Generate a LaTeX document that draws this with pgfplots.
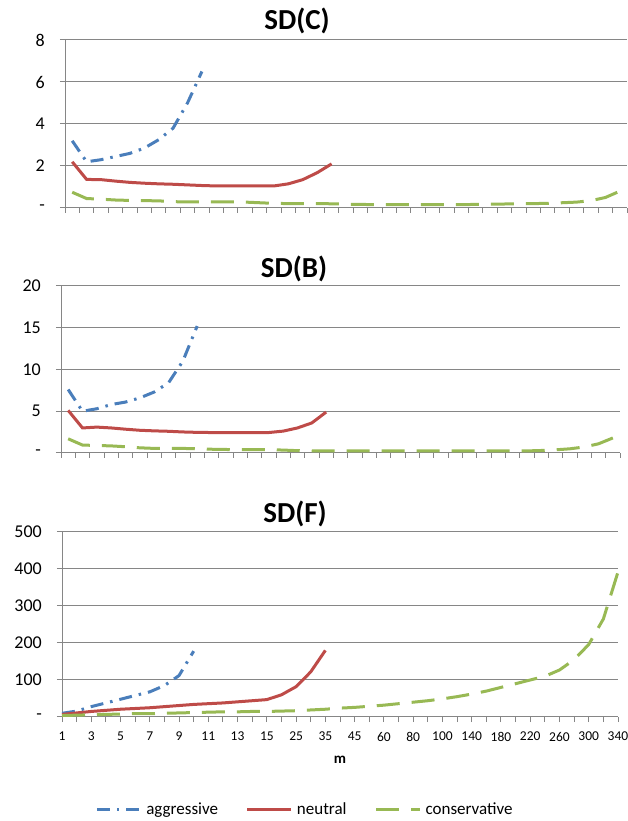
\documentclass[border=0pt]{standalone}
\usepackage{fontspec}
\setmainfont{Carlito}
\usepackage{pgfplots}
\pgfplotsset{compat=1.18}
\definecolor{agg}{HTML}{4A7EBB}
\definecolor{neu}{HTML}{BE4B48}
\definecolor{con}{HTML}{98B954}
\definecolor{axgray}{HTML}{868686}
\pgfplotsset{
  sdbase/.style={
    scale only axis,
    anchor=south west,
    axis lines*=left,
    axis line style={draw=axgray, line width=1bp},
    ymajorgrids,
    grid style={draw=axgray, line width=1bp},
    tick style={draw=axgray, line width=1bp},
    tick align=outside,
    major tick length=5bp,
    /pgf/number format/assume math mode=true,
    yticklabel style={font=\fontsize{18bp}{20bp}\selectfont, anchor=east, inner sep=0pt, xshift=-15bp},
    xticklabel style={font=\fontsize{13.5bp}{15bp}\selectfont, anchor=north, inner sep=0pt, yshift=-10bp},
    clip=false,
  },
  aggstyle/.style={color=agg, line width=3bp, dash pattern=on 13bp off 7bp on 2.5bp off 7bp},
  neustyle/.style={color=neu, line width=3bp},
  constyle/.style={color=con, line width=3bp, dash pattern=on 23bp off 12bp},
}
\begin{document}
\begin{tikzpicture}
\path[use as bounding box] (0,0) rectangle (628bp,821bp);

% ---------- SD(C) ----------
\begin{axis}[sdbase,
  at={(65bp,613bp)}, width=562bp, height=168bp,
  xmin=-0.5, xmax=38.5, ymin=0, ymax=8,
  xtick={-0.5,0.5,...,38.5}, xticklabels={},
  ytick={0,2,4,6,8}, yticklabels={-,2,4,6,8},
]
\addplot[aggstyle] coordinates {(0,3.2)(1,2.2)(2,2.3)(3,2.45)(4,2.6)(5,2.85)(6,3.25)(7,3.8)(8,5.0)(9,6.5)};
\addplot[neustyle] coordinates {(0,2.2)(1,1.36)(2,1.35)(3,1.28)(4,1.22)(5,1.18)(6,1.15)(7,1.13)(8,1.1)(9,1.07)(10,1.05)(11,1.05)(12,1.05)(13,1.05)(14,1.05)(15,1.15)(16,1.35)(17,1.68)(18,2.1)};
\addplot[constyle] coordinates {(0,0.75)(1,0.45)(2,0.42)(3,0.38)(4,0.36)(5,0.35)(6,0.34)(7,0.3)(8,0.29)(9,0.29)(10,0.29)(11,0.29)(12,0.28)(13,0.25)(14,0.22)(15,0.21)(16,0.21)(17,0.21)(18,0.2)(19,0.18)(20,0.17)(21,0.16)(22,0.16)(23,0.16)(24,0.16)(25,0.16)(26,0.16)(27,0.16)(28,0.17)(29,0.18)(30,0.19)(31,0.2)(32,0.21)(33,0.22)(34,0.25)(35,0.28)(36,0.35)(37,0.5)(38,0.8)};
\end{axis}

% ---------- SD(B) ----------
\begin{axis}[sdbase,
  at={(61bp,368bp)}, width=559bp, height=167bp,
  xmin=-0.5, xmax=38.5, ymin=0, ymax=20,
  xtick={-0.5,0.5,...,38.5}, xticklabels={},
  ytick={0,5,10,15,20}, yticklabels={-,5,10,15,20},
]
\addplot[aggstyle] coordinates {(0,7.6)(1,5.0)(2,5.3)(3,5.8)(4,6.1)(5,6.6)(6,7.3)(7,8.4)(8,11.0)(9,15.2)};
\addplot[neustyle] coordinates {(0,5.1)(1,3.0)(2,3.1)(3,3.0)(4,2.85)(5,2.72)(6,2.65)(7,2.6)(8,2.52)(9,2.47)(10,2.45)(11,2.45)(12,2.45)(13,2.45)(14,2.45)(15,2.62)(16,3.0)(17,3.6)(18,4.9)};
\addplot[constyle] coordinates {(0,1.7)(1,0.95)(2,0.9)(3,0.85)(4,0.75)(5,0.62)(6,0.55)(7,0.55)(8,0.55)(9,0.5)(10,0.45)(11,0.42)(12,0.4)(13,0.4)(14,0.4)(15,0.35)(16,0.28)(17,0.25)(18,0.25)(19,0.25)(20,0.25)(21,0.25)(22,0.25)(23,0.25)(24,0.25)(25,0.25)(26,0.25)(27,0.25)(28,0.25)(29,0.25)(30,0.25)(31,0.25)(32,0.25)(33,0.3)(34,0.38)(35,0.5)(36,0.72)(37,1.1)(38,1.8)};
\end{axis}

% ---------- SD(F) ----------
\begin{axis}[sdbase,
  at={(62bp,104bp)}, width=556bp, height=185bp,
  xmin=0, xmax=38, ymin=0, ymax=500,
  xtick={0,...,38},
  xticklabels={1,{},3,{},5,{},7,{},9,{},11,{},13,{},15,{},25,{},35,{},45,{},60,{},80,{},100,{},140,{},180,{},220,{},260,{},300,{},340},
  ytick={0,100,200,300,400,500}, yticklabels={-,100,200,300,400,500},
  legend columns=3,
  legend style={at={(0.437,-0.5)}, anchor=center, draw=none, fill=none,
    font=\fontsize{17bp}{19bp}\selectfont,
    /tikz/every even column/.append style={column sep=26bp},
    /tikz/every odd column/.append style={column sep=2bp}},
  legend image code/.code={\draw[#1] (0bp,0bp) -- (44bp,0bp);},
]
\addplot[aggstyle] coordinates {(0,10)(1,16)(2,28)(3,38)(4,48)(5,58)(6,68)(7,85)(8,112)(9,178)};
\addplot[neustyle] coordinates {(0,7)(1,11)(2,15)(3,18)(4,21)(5,23)(6,25)(7,28)(8,31)(9,34)(10,36)(11,38)(12,41)(13,44)(14,47)(15,60)(16,82)(17,122)(18,180)};
\addplot[constyle] coordinates {(0,4)(1,5)(2,6)(3,7)(4,8)(5,9)(6,9)(7,10)(8,11)(9,12)(10,13)(11,14)(12,14)(13,15)(14,15)(15,16)(16,17)(17,19)(18,21)(19,24)(20,26)(21,29)(22,32)(23,36)(24,40)(25,44)(26,49)(27,55)(28,62)(29,70)(30,80)(31,90)(32,100)(33,110)(34,127)(35,155)(36,196)(37,265)(38,392)};
\legend{aggressive,neutral,conservative}
\end{axis}

% titles
\node[font=\bfseries\fontsize{29bp}{33bp}\selectfont] at (297bp,800bp) {SD(C)};
\node[font=\bfseries\fontsize{29bp}{33bp}\selectfont] at (294bp,552bp) {SD(B)};
\node[font=\bfseries\fontsize{29bp}{33bp}\selectfont] at (295bp,307bp) {SD(F)};
\node[font=\bfseries\fontsize{15bp}{17bp}\selectfont] at (340bp,61bp) {m};
\end{tikzpicture}
\end{document}
